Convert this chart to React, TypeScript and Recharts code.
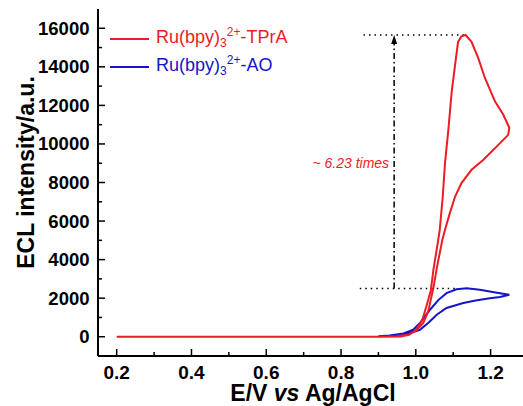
import React from 'react';
import { LineChart, Line, XAxis, YAxis, ReferenceLine, ReferenceDot, Legend } from 'recharts';

// Ru(bpy)3 2+ - TPrA, in scan order (forward then reverse)
const tpraPotential = [
  0.2, 0.4, 0.6, 0.8, 0.9, 0.96, 0.982, 1.0, 1.018, 1.03, 1.04, 1.047, 1.06, 1.064,
  1.072, 1.078, 1.087, 1.096, 1.105, 1.113, 1.122, 1.133, 1.149, 1.167, 1.185, 1.212, 1.234, 1.25,
  1.247, 1.216, 1.18, 1.149, 1.122, 1.105, 1.091, 1.078, 1.071, 1.056, 1.047, 1.033, 1.02,
  1.0, 0.98, 0.95, 0.9, 0.6, 0.2,
];
const tpraIntensity = [
  0, 0, 0, 0, 5, 15, 100, 330, 900, 1700, 2400, 3470, 5030, 5550,
  7270, 9000, 10730, 12710, 14100, 15300, 15580, 15650, 15300, 14450, 13410, 12200, 11510, 10840,
  10470, 9860, 9170, 8660, 7970, 7270, 6410, 5550, 5030, 3560, 2520, 1310, 710,
  300, 100, 20, 0, 0, 0,
];

// Ru(bpy)3 2+ - AO, in scan order
const aoPotential = [
  0.9, 0.93, 0.967, 0.993, 1.011, 1.038, 1.06, 1.082, 1.109, 1.136, 1.171, 1.198, 1.225, 1.25,
  1.225, 1.198, 1.16, 1.127, 1.082, 1.056, 1.033, 1.011, 0.984, 0.95, 0.9,
];
const aoIntensity = [
  30, 60, 170, 360, 710, 1400, 1900, 2260, 2460, 2520, 2440, 2350, 2260, 2180,
  2060, 2000, 1880, 1750, 1490, 1140, 710, 360, 190, 90, 30,
];

const xTicks = [0.2, 0.3, 0.4, 0.5, 0.6, 0.7, 0.8, 0.9, 1.0, 1.1, 1.2];
const yTicks = [
  0, 1000, 2000, 3000, 4000, 5000, 6000, 7000, 8000, 9000, 10000, 11000, 12000, 13000, 14000,
  15000, 16000,
];

const tpraPeak = 15650;
const aoPeak = 2500;
const guideStart = 0.86;
const arrowPotential = 0.942;
const ratioText = '~ 6.23 times';

const RED = '#ec1c24';
const BLUE = '#1414c8';
const FONT = "'Liberation Sans', Arial, sans-serif";

const tpraData = tpraPotential.map((x, i) => ({ x, y: tpraIntensity[i] }));
const aoData = aoPotential.map((x, i) => ({ x, y: aoIntensity[i] }));

const XTick = (props: any) => {
  const { x, y, payload } = props;
  const major = Math.round(payload.value * 10) % 2 === 0;
  return (
    <g>
      <line x1={x} x2={x} y1={y} y2={y - (major ? 7 : 4)} stroke="#000" strokeWidth={1.5} />
      {major && (
        <text x={x} y={y + 23} textAnchor="middle" fontFamily={FONT} fontWeight="bold" fontSize={19} fill="#000">
          {payload.value.toFixed(1)}
        </text>
      )}
    </g>
  );
};

const YTick = (props: any) => {
  const { x, y, payload } = props;
  const major = payload.value % 2000 === 0;
  return (
    <g>
      <line x1={x} x2={x + (major ? 7 : 4)} y1={y} y2={y} stroke="#000" strokeWidth={1.5} />
      {major && (
        <text x={x - 8.5} y={y + 6.5} textAnchor="end" fontFamily={FONT} fontWeight="bold" fontSize={18.5} fill="#000">
          {payload.value}
        </text>
      )}
    </g>
  );
};

const LegendBox = () => {
  const items = [
    { color: RED, tail: '-TPrA' },
    { color: BLUE, tail: '-AO' },
  ];
  return (
    <div style={{ fontFamily: FONT, fontSize: 18 }}>
      {items.map((it) => (
        <div key={it.tail} style={{ display: 'flex', alignItems: 'center', height: 27.7, lineHeight: '27.7px' }}>
          <div style={{ width: 39, height: 2, background: it.color, marginRight: 7 }} />
          <span style={{ color: it.color, whiteSpace: 'nowrap' }}>
            Ru(bpy)
            <span style={{ fontSize: 12, position: 'relative', top: 4 }}>3</span>
            <span style={{ fontSize: 12, position: 'relative', top: -7 }}>2+</span>
            {it.tail}
          </span>
        </div>
      ))}
    </div>
  );
};

export default function App() {
  return (
    <div style={{ position: 'fixed', left: 0, top: 0, width: 523, height: 406, overflow: 'hidden', background: '#fff' }}>
      <LineChart width={530} height={406} margin={{ top: 9, right: 2, bottom: 0, left: 0 }}>
        <XAxis
          dataKey="x"
          type="number"
          domain={[0.15, 1.3]}
          ticks={xTicks}
          interval={0}
          allowDataOverflow
          tickSize={0}
          tickMargin={0}
          tickLine={false}
          tick={<XTick />}
          height={50}
          axisLine={{ stroke: '#000', strokeWidth: 2 }}
          label={{
            content: (p: any) => {
              const vb = p.viewBox;
              return (
                <text x={vb.x + vb.width / 2} y={vb.y + 45} textAnchor="middle" fontFamily={FONT} fontWeight="bold" fontSize={23} fill="#000">
                  E/V <tspan fontStyle="italic">vs</tspan> Ag/AgCl
                </text>
              );
            },
          }}
        />
        <XAxis xAxisId="top" orientation="top" type="number" domain={[0.15, 1.3]} height={0} tick={false} tickLine={false} axisLine={{ stroke: '#000', strokeWidth: 2 }} />
        <YAxis
          type="number"
          domain={[-1000, 17000]}
          ticks={yTicks}
          interval={0}
          allowDataOverflow
          width={98}
          tickSize={0}
          tickMargin={0}
          tickLine={false}
          tick={<YTick />}
          axisLine={{ stroke: '#000', strokeWidth: 2 }}
          label={{
            content: (p: any) => {
              const vb = p.viewBox;
              const cx = 34;
              const cy = vb.y + 163.5;
              return (
                <text x={cx} y={cy} transform={`rotate(-90, ${cx}, ${cy})`} textAnchor="middle" fontFamily={FONT} fontWeight="bold" fontSize={23} fill="#000">
                  ECL intensity/a.u.
                </text>
              );
            },
          }}
        />
        <YAxis yAxisId="right" orientation="right" width={0} tick={false} tickLine={false} axisLine={{ stroke: '#000', strokeWidth: 2 }} />
        <Legend layout="vertical" align="center" verticalAlign="middle" content={<LegendBox />} wrapperStyle={{ left: 110, top: 25, width: 'auto' }} />

        <ReferenceLine segment={[{ x: guideStart, y: tpraPeak }, { x: 1.133, y: tpraPeak }]} stroke="#000" strokeWidth={1.5} strokeDasharray="1.5 4" />
        <ReferenceLine segment={[{ x: guideStart - 0.01, y: aoPeak }, { x: 1.11, y: aoPeak }]} stroke="#000" strokeWidth={1.5} strokeDasharray="1.5 4" />
        <ReferenceLine segment={[{ x: arrowPotential, y: aoPeak }, { x: arrowPotential, y: tpraPeak - 300 }]} stroke="#000" strokeWidth={1.5} strokeDasharray="6 3 1.5 3" />
        <ReferenceDot
          x={arrowPotential}
          y={tpraPeak}
          shape={(p: any) => (
            <polygon points={`${p.cx},${p.cy} ${p.cx - 3},${p.cy + 9} ${p.cx + 3},${p.cy + 9}`} fill="#000" />
          )}
        />
        <ReferenceDot
          x={arrowPotential}
          y={9035}
          shape={(p: any) => (
            <text x={p.cx - 5} y={p.cy + 5} textAnchor="end" fontFamily={FONT} fontStyle="italic" fontSize={14} fill={RED}>
              {ratioText}
            </text>
          )}
        />

        <Line data={aoData} dataKey="y" type="linear" stroke={BLUE} strokeWidth={2} dot={false} isAnimationActive={false} />
        <Line data={tpraData} dataKey="y" type="linear" stroke={RED} strokeWidth={2} dot={false} isAnimationActive={false} />
      </LineChart>
    </div>
  );
}
